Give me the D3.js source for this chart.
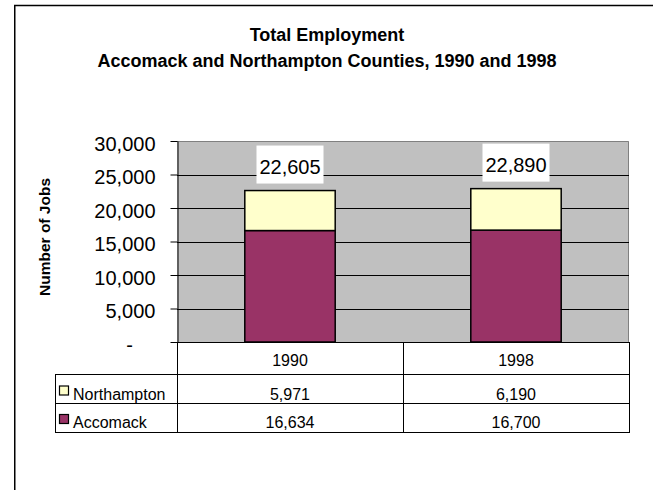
<!DOCTYPE html>
<html>
<head>
<meta charset="utf-8">
<script src="https://cdn.jsdelivr.net/npm/d3@7"></script>
<style>
  html, body { margin: 0; padding: 0; background: #fff; }
  svg { display: block; font-family: "Liberation Sans", Arial, sans-serif; }
</style>
</head>
<body>
<svg id="chart" width="653" height="490"></svg>
<script>
const titleLines = ["Total Employment", "Accomack and Northampton Counties, 1990 and 1998"];
const yTitle = "Number of Jobs";
const categories = ["1990", "1998"];
const seriesNames = ["Northampton", "Accomack"];
const accomack = [16634, 16700];
const northampton = [5971, 6190];
const yTicks = [0, 5000, 10000, 15000, 20000, 25000, 30000];
const colors = { Accomack: "#993366", Northampton: "#ffffcc" };

const svg = d3.select("#chart");
const fmt = d3.format(",");

// outer frame
svg.append("rect").attr("x", 14.75).attr("y", 5.5).attr("width", 800).attr("height", 600)
  .attr("fill", "none").attr("stroke", "#000").attr("stroke-width", 1.5);

// titles
svg.append("text").attr("x", 327).attr("y", 41).attr("text-anchor", "middle")
  .attr("font-size", 18).attr("font-weight", "bold").text(titleLines[0]);
svg.append("text").attr("x", 327).attr("y", 67).attr("text-anchor", "middle")
  .attr("font-size", 18).attr("font-weight", "bold").text(titleLines[1]);

const plot = { left: 177, right: 629, top: 141, bottom: 342 };
const x = d3.scaleBand().domain(categories).range([plot.left, plot.right])
  .paddingInner(0.6).paddingOuter(0.3);
const xCol = d3.scaleBand().domain(categories).range([plot.left, plot.right]);
const y = d3.scaleLinear().domain([0, 30000]).range([plot.bottom, plot.top]);

// plot background
svg.append("rect").attr("x", plot.left).attr("y", plot.top)
  .attr("width", plot.right - plot.left).attr("height", plot.bottom - plot.top)
  .attr("fill", "#c0c0c0");
// plot border top/right (gray)
svg.append("path")
  .attr("d", `M${plot.left},${plot.top + 0.5}H${plot.right - 0.5}V${plot.bottom}`)
  .attr("fill", "none").attr("stroke", "#808080").attr("stroke-width", 1);

// gridlines
svg.append("g").selectAll("line").data(yTicks.filter(d => d > 0 && d < 30000)).join("line")
  .attr("x1", plot.left).attr("x2", plot.right)
  .attr("y1", d => Math.round(y(d)) + 0.5).attr("y2", d => Math.round(y(d)) + 0.5)
  .attr("stroke", "#000").attr("stroke-width", 1);

// y axis
const yAxis = svg.append("g").attr("transform", `translate(${plot.left + 0.5},0)`)
  .call(d3.axisLeft(y).tickValues(yTicks).tickSize(7).tickSizeOuter(0)
    .tickFormat(d => d === 0 ? "-" : fmt(d)));
yAxis.select(".domain").attr("stroke", "#000");
yAxis.selectAll(".tick line").attr("stroke", "#000");
yAxis.selectAll(".tick text")
  .attr("font-size", 20).attr("font-family", "Liberation Sans, Arial, sans-serif")
  .attr("fill", "#000").attr("x", -22).attr("dy", "0.45em");
yAxis.selectAll(".tick").filter(d => d === 0).select("text")
  .attr("x", 129 - plot.left).attr("text-anchor", "middle").attr("dy", "0.47em");

// y title
svg.append("text").attr("transform", "translate(50,237) rotate(-90)")
  .attr("text-anchor", "middle").attr("font-size", 15.5).attr("font-weight", "bold")
  .text(yTitle);

// stacked bars
const rows = categories.map((c, i) => ({ cat: c, Accomack: accomack[i], Northampton: northampton[i] }));
const stack = d3.stack().keys(["Accomack", "Northampton"])(rows);
svg.append("g").selectAll("g").data(stack).join("g")
  .attr("fill", d => colors[d.key])
  .selectAll("rect").data(d => d).join("rect")
  .attr("x", d => x(d.data.cat)).attr("width", x.bandwidth())
  .attr("y", d => y(d[1])).attr("height", d => y(d[0]) - y(d[1]))
  .attr("stroke", "#000").attr("stroke-width", 1.5);

// total labels
const totals = rows.map(r => ({ cat: r.cat, total: r.Accomack + r.Northampton }));
const lbl = svg.append("g").selectAll("g").data(totals).join("g");
lbl.append("rect")
  .attr("x", d => x(d.cat) + x.bandwidth() / 2 - 33.5).attr("width", 67)
  .attr("y", d => y(d.total) - 45).attr("height", 38).attr("fill", "#fff");
lbl.append("text")
  .attr("x", d => x(d.cat) + x.bandwidth() / 2).attr("y", d => y(d.total) - 16.5)
  .attr("text-anchor", "middle").attr("font-size", 20).text(d => fmt(d.total));

// data table
const table = { legendLeft: 55, header: [342, 374], r1: [374, 403], r2: [403, 432] };
const tg = svg.append("g").attr("stroke", "#000").attr("stroke-width", 1);
const colEdges = [plot.left, ...categories.map(c => xCol(c) + xCol.bandwidth())];
[table.r1[0], table.r2[0], table.r2[1]].forEach(yy => {
  tg.append("line").attr("x1", table.legendLeft).attr("x2", plot.right)
    .attr("y1", yy + 0.5).attr("y2", yy + 0.5);
});
tg.append("line").attr("x1", plot.left).attr("x2", plot.right)
  .attr("y1", table.header[0] + 0.5).attr("y2", table.header[0] + 0.5);
colEdges.forEach(xx => {
  tg.append("line").attr("x1", Math.round(xx) + 0.5).attr("x2", Math.round(xx) + 0.5)
    .attr("y1", table.header[0]).attr("y2", table.r2[1] + 1);
});
tg.append("line").attr("x1", table.legendLeft + 0.5).attr("x2", table.legendLeft + 0.5)
  .attr("y1", table.r1[0]).attr("y2", table.r2[1] + 1);

// header texts
svg.append("g").selectAll("text").data(categories).join("text")
  .attr("x", d => xCol(d) + xCol.bandwidth() / 2).attr("y", 366)
  .attr("text-anchor", "middle").attr("font-size", 16).text(d => d);

const tableRows = [
  { name: seriesNames[0], values: northampton, base: 399.5, key: 386 },
  { name: seriesNames[1], values: accomack, base: 427.5, key: 414.5 }
];
tableRows.forEach(r => {
  svg.append("rect").attr("x", 59.5).attr("y", r.key).attr("width", 9).attr("height", 9)
    .attr("fill", colors[r.name]).attr("stroke", "#000").attr("stroke-width", 1.2);
  svg.append("text").attr("x", 73).attr("y", r.base).attr("font-size", 16).text(r.name);
  svg.append("g").selectAll("text").data(categories).join("text")
    .attr("x", d => xCol(d) + xCol.bandwidth() / 2).attr("y", r.base)
    .attr("text-anchor", "middle").attr("font-size", 16)
    .text((d, i) => fmt(r.values[i]));
});
</script>
</body>
</html>
